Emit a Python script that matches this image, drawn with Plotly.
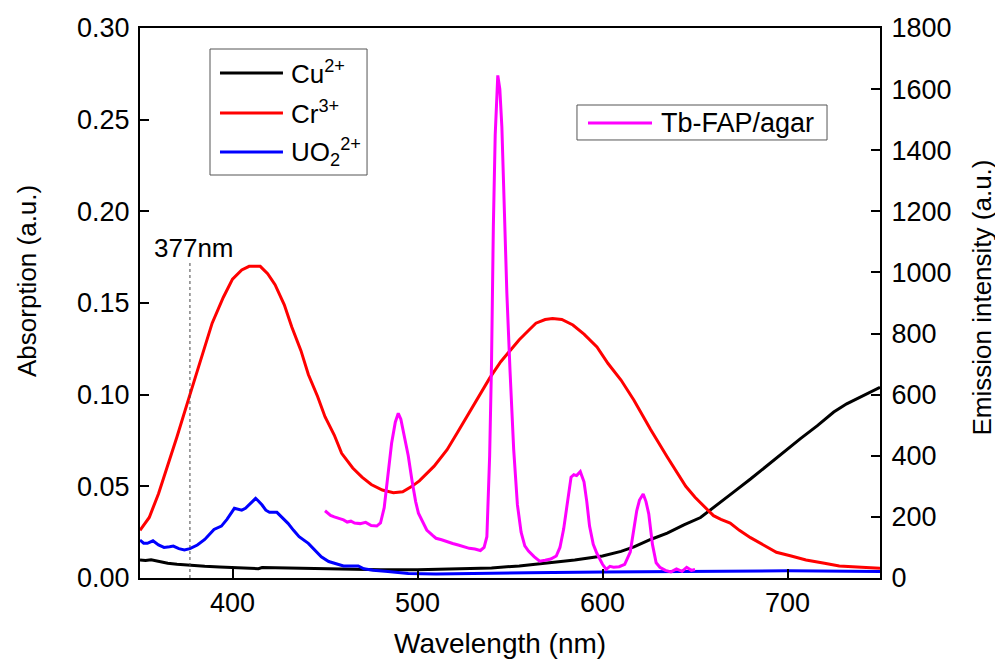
import plotly.graph_objects as go

# ---- data ----
cr_wl = [350, 355, 360, 365, 370, 377, 383, 389, 395, 400, 405, 409, 412, 415, 419, 423, 428, 432,
         437, 441, 446, 450, 455, 459, 465, 470, 475, 481, 487, 492, 497, 501, 509, 516, 522, 528,
         534, 539, 545, 550, 553, 555, 560, 564, 569, 573, 578, 584, 590, 597, 603, 610, 617, 626,
         635, 645, 650, 656, 660, 664, 669, 674, 680, 687, 694, 702, 710, 720, 728, 740, 750]
cr_abs = [0.026, 0.033, 0.046, 0.061, 0.077, 0.100, 0.120, 0.139, 0.153, 0.163, 0.168, 0.170, 0.170,
          0.170, 0.166, 0.160, 0.149, 0.137, 0.124, 0.111, 0.099, 0.088, 0.078, 0.068, 0.060, 0.055,
          0.051, 0.048, 0.0465, 0.047, 0.050, 0.053, 0.061, 0.070, 0.080, 0.090, 0.100, 0.109, 0.118,
          0.124, 0.127, 0.130, 0.135, 0.139, 0.141, 0.1415, 0.141, 0.138, 0.133, 0.126, 0.117, 0.108,
          0.097, 0.081, 0.066, 0.050, 0.044, 0.038, 0.034, 0.032, 0.030, 0.026, 0.022, 0.018, 0.014,
          0.012, 0.0098, 0.008, 0.0065, 0.0058, 0.0053]

cu_wl = [350, 353, 356, 360, 365, 370, 377, 385, 393, 400, 410, 414, 416, 425, 437, 450, 465, 480,
         500, 520, 540, 555, 570, 585, 600, 610, 617, 626, 635, 644, 653, 658, 662, 671, 680, 689,
         698, 707, 716, 725, 732, 739, 745, 750]
cu_abs = [0.0098, 0.0095, 0.0099, 0.009, 0.008, 0.0075, 0.0069, 0.0064, 0.006, 0.0058, 0.0053,
          0.0051, 0.0057, 0.0055, 0.0051, 0.0049, 0.0047, 0.0045, 0.0045, 0.0048, 0.0055, 0.0066,
          0.0082, 0.0098, 0.012, 0.0145, 0.017, 0.021, 0.0245, 0.029, 0.033, 0.037, 0.040, 0.047,
          0.054, 0.0615, 0.069, 0.076, 0.083, 0.0905, 0.095, 0.0985, 0.1015, 0.104]

uo_wl = [350, 352, 354, 357, 360, 363, 366, 368, 371, 374, 377, 381, 385, 390, 394, 397, 401, 405,
         407, 410, 412.5, 414, 416, 418, 420, 424, 427, 430, 433, 436, 441, 445, 448, 452, 456, 460,
         464, 468, 471, 476, 484, 490, 495, 510, 535, 560, 600, 650, 700, 750]
uo_abs = [0.0207, 0.019, 0.0189, 0.0203, 0.018, 0.0167, 0.017, 0.0174, 0.016, 0.0153, 0.016, 0.018,
          0.021, 0.0265, 0.0283, 0.032, 0.038, 0.037, 0.038, 0.041, 0.0434, 0.042, 0.0398, 0.037,
          0.0358, 0.0358, 0.033, 0.0298, 0.026, 0.0225, 0.0189, 0.015, 0.0116, 0.009, 0.0076, 0.0066,
          0.0065, 0.0066, 0.005, 0.0042, 0.0036, 0.003, 0.0024, 0.0022, 0.0023, 0.0028, 0.0033,
          0.0038, 0.0039, 0.0036]

tb_wl = [450, 451, 453, 455, 458, 460, 462, 464, 466, 469, 472, 475, 478, 480, 482, 484, 486, 488,
         489.6, 491, 493, 495, 497, 499, 500.5, 503, 505, 508, 510, 513, 516, 519, 522, 525, 528,
         531, 534, 536, 537.5, 539, 540, 541, 542, 543.4, 544.5, 545.6, 547, 548.3, 550, 552, 554,
         556, 558, 560, 563, 566, 569, 572, 575, 577, 579, 581, 583, 584.5, 586, 588, 590, 591.5,
         593, 595, 597, 600, 602, 604, 606, 609, 612, 615, 617, 618.5, 620, 622, 623.5, 625, 627,
         629, 631, 634, 637, 640, 643, 645.5, 648, 650]
tb_em = [220, 215, 205, 200, 195, 190, 183, 186, 180, 178, 182, 172, 170, 180, 230, 330, 441, 510,
         539, 520, 462, 400, 320, 250, 212, 180, 157, 140, 130, 125, 118, 113, 108, 103, 97, 95, 90,
         100, 135, 400, 700, 1150, 1450, 1645, 1600, 1477, 1200, 932, 680, 420, 240, 150, 105, 88, 70,
         55, 58, 62, 72, 100, 160, 240, 330, 338, 335, 348, 315, 250, 170, 110, 80, 45, 28, 38, 35,
         37, 45, 85, 160, 220, 255, 275, 250, 210, 110, 50, 35, 25, 20, 30, 22, 35, 25, 28]

series_names = ["Cu<sup>2+</sup>", "Cr<sup>3+</sup>", "UO<sub>2</sub><sup>2+</sup>", "Tb-FAP/agar"]
series_colors = ["black", "#ff0000", "#0000ff", "#ff00ff"]

x_range = [350, 750]
y_range = [0, 0.30]
y2_range = [0, 1800]
x_ticks = [400, 500, 600, 700]
y_ticks = [0, 0.05, 0.10, 0.15, 0.20, 0.25, 0.30]
y2_ticks = [0, 200, 400, 600, 800, 1000, 1200, 1400, 1600, 1800]
excitation_nm = 377

FONT = "Liberation Sans, Arial, sans-serif"

fig = go.Figure()
fig.add_trace(go.Scatter(x=cu_wl, y=cu_abs, mode="lines", name=series_names[0],
                         line=dict(color=series_colors[0], width=3), showlegend=False))
fig.add_trace(go.Scatter(x=cr_wl, y=cr_abs, mode="lines", name=series_names[1],
                         line=dict(color=series_colors[1], width=3), showlegend=False))
fig.add_trace(go.Scatter(x=uo_wl, y=uo_abs, mode="lines", name=series_names[2],
                         line=dict(color=series_colors[2], width=3), showlegend=False))
fig.add_trace(go.Scatter(x=tb_wl, y=tb_em, mode="lines", name=series_names[3],
                         line=dict(color=series_colors[3], width=3), yaxis="y2", showlegend=False))

# 377 nm excitation marker
fig.add_shape(type="line", x0=excitation_nm, x1=excitation_nm, y0=0, y1=0.173, xref="x", yref="y",
              line=dict(color="#444444", width=1, dash="dot"))
fig.add_annotation(x=379, y=0.171, xref="x", yref="y", text=f"{excitation_nm}nm", showarrow=False,
                   yanchor="bottom", font=dict(size=26, color="black", family=FONT))

# ---- legend boxes (drawn as framed keys, like the original) ----
def legend_box(x0, x1, y0, y1):
    fig.add_shape(type="rect", xref="paper", yref="paper", x0=x0, x1=x1, y0=y0, y1=y1,
                  line=dict(color="#555555", width=1), fillcolor="white", layer="above")

def legend_item(lx0, lx1, y, tx, name, color, size):
    fig.add_shape(type="line", xref="paper", yref="paper", x0=lx0, x1=lx1, y0=y, y1=y,
                  line=dict(color=color, width=3), layer="above")
    fig.add_annotation(xref="paper", yref="paper", x=tx, y=y, text=name, showarrow=False,
                       xanchor="left", yanchor="middle",
                       font=dict(size=size, color="black", family=FONT))

legend_box(0.0946, 0.3068, 0.7327, 0.9618)
for yy, nm, col in zip([0.9182, 0.8455, 0.7745], series_names[:3], series_colors[:3]):
    legend_item(0.1081, 0.1932, yy, 0.2020, nm, col, 26)

legend_box(0.5905, 0.9284, 0.7964, 0.8600)
legend_item(0.6054, 0.6919, 0.8273, 0.7010, series_names[3], series_colors[3], 27)

# ---- axis titles ----
fig.add_annotation(xref="paper", yref="paper", x=0.4865, y=-0.1195, text="Wavelength (nm)",
                   showarrow=False, xanchor="center", yanchor="middle",
                   font=dict(size=28, color="black", family=FONT))
fig.add_annotation(xref="paper", yref="paper", x=-0.1527, y=0.54, text="Absorption (a.u.)",
                   showarrow=False, textangle=-90, xanchor="center", yanchor="middle",
                   font=dict(size=26, color="black", family=FONT))
fig.add_annotation(xref="paper", yref="paper", x=1.1365, y=0.51, text="Emission intensity (a.u.)",
                   showarrow=False, textangle=-90, xanchor="center", yanchor="middle",
                   font=dict(size=26, color="black", family=FONT))

axis_common = dict(showline=True, linecolor="black", linewidth=2, ticks="inside", ticklen=9,
                   tickwidth=2, tickcolor="black", showgrid=False, zeroline=False, automargin=False,
                   tickfont=dict(size=27, color="black", family=FONT))

fig.update_layout(
    width=995, height=652,
    margin=dict(l=132, r=123, t=20, b=82),
    paper_bgcolor="white", plot_bgcolor="white",
    font=dict(family=FONT, color="black"),
    showlegend=False,
    xaxis=dict(range=x_range, tickvals=x_ticks, mirror=True, **axis_common),
    yaxis=dict(range=y_range, tickvals=y_ticks, tickformat=".2f", ticklabelstandoff=3,
               **axis_common),
    yaxis2=dict(range=y2_range, overlaying="y", side="right", tickvals=y2_ticks,
                ticklabelstandoff=4, **axis_common),
)

fig.write_html("out.html")
